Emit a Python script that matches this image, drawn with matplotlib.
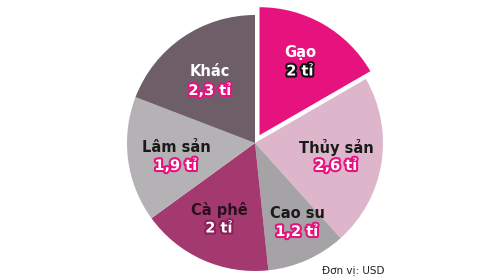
import matplotlib
matplotlib.use("Agg")
import matplotlib.pyplot as plt
import matplotlib.patheffects as pe

# Data
categories = ["Gạo", "Thủy sản", "Cao su", "Cà phê", "Lâm sản", "Khác"]
values = [2, 2.6, 1.2, 2, 1.9, 2.3]
colors = ["#E6137F", "#DDB6CB", "#A5A3A6", "#A3396F", "#B4B2B5", "#6D5E67"]
# offset of the Gạo slice, in pixels (pie drawn in pixel coords)
explode = [9, 0, 0, 0, 0, 0]

# label styles: (name colour, value outline colour)
name_colors = ["white", "#1a1a1a", "#1a1a1a", "#2a0f1e", "#1a1a1a", "white"]
value_outline = ["#111111", "#E6137F", "#E6137F", "#8a1f58", "#E6137F", "#E6137F"]
# label positions (pixel coords, origin top-left)
label_pos = [(300, 53), (336, 147), (297, 213), (219, 210), (176, 147), (210, 72)]


def fmt(v):
    s = ("%g" % v).replace(".", ",")
    return s + " tỉ"


fig = plt.figure(figsize=(5, 2.8), dpi=100)
ax = fig.add_axes([0, 0, 1, 1])

cx, cy, r = 255, 280 - 143, 128
ax.pie(values, colors=colors, explode=explode, startangle=90, counterclock=False,
       center=(cx, cy), radius=r, wedgeprops=dict(linewidth=0))
ax.set_xlim(0, 500)
ax.set_ylim(0, 280)
ax.set_aspect("equal")
ax.axis("off")

for i, name in enumerate(categories):
    x, y = label_pos[i]
    ax.text(x, 280 - y, name, ha="center", va="center", fontsize=10.5, fontweight="bold",
            color=name_colors[i])
    ax.text(x, 280 - y - 18, fmt(values[i]), ha="center", va="center", fontsize=10.5,
            fontweight="bold", color="white",
            path_effects=[pe.withStroke(linewidth=3, foreground=value_outline[i])])

ax.text(322, 280 - 270, "Đơn vị: USD", ha="left", va="center", fontsize=7.5, color="#222222")

fig.savefig("out.png", dpi=100)
